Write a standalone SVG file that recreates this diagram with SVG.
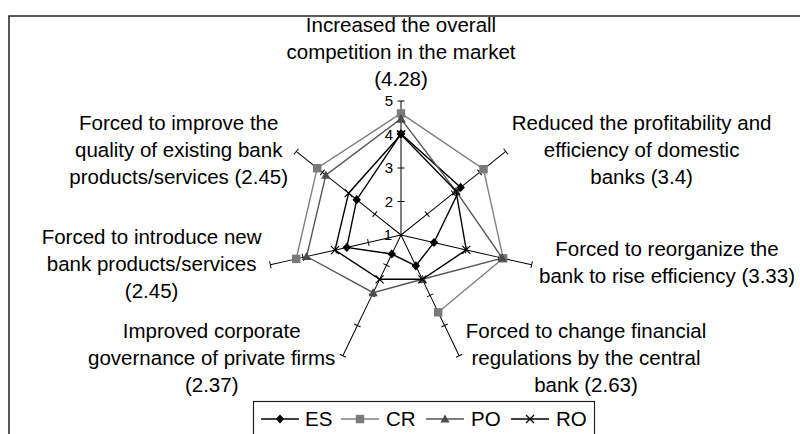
<svg xmlns="http://www.w3.org/2000/svg" xmlns:xlink="http://www.w3.org/1999/xlink" width="800" height="434" viewBox="0 0 800 434">
<defs>
<style>
text{font-family:"Liberation Sans",Arial,sans-serif;fill:#000}
.lbl{font-size:20.5px;text-anchor:middle}
.leg{font-size:20.5px}
.ax{font-size:15px;text-anchor:end}
.axis{fill:none;stroke:#000;stroke-width:1;marker-mid:url(#tk);marker-end:url(#tk)}
.es{fill:none;stroke:#000;stroke-width:1.4;marker-start:url(#mES);marker-mid:url(#mES);marker-end:url(#mES)}
.cr{fill:none;stroke:#808080;stroke-width:1.4;marker-start:url(#mCR);marker-mid:url(#mCR);marker-end:url(#mCR)}
.po{fill:none;stroke:#555;stroke-width:1.4;marker-start:url(#mPO);marker-mid:url(#mPO);marker-end:url(#mPO)}
.ro{fill:none;stroke:#000;stroke-width:1.4;marker-start:url(#mRO);marker-mid:url(#mRO);marker-end:url(#mRO)}
.legl{marker-start:none;marker-end:none}
</style>
<marker id="tk" markerUnits="userSpaceOnUse" viewBox="-5 -5 10 10" markerWidth="10" markerHeight="10" refX="0" refY="0" orient="auto" overflow="visible"><line x1="0" y1="-3.5" x2="0" y2="3.5" stroke="#000" stroke-width="1"/></marker>
<marker id="mES" markerUnits="userSpaceOnUse" viewBox="-5 -5 10 10" markerWidth="10" markerHeight="10" refX="0" refY="0" overflow="visible"><path d="M0,-4.6 L4.2,0 L0,4.6 L-4.2,0Z" fill="#000"/></marker>
<marker id="mCR" markerUnits="userSpaceOnUse" viewBox="-5 -5 10 10" markerWidth="10" markerHeight="10" refX="0" refY="0" overflow="visible"><rect x="-4.2" y="-4.2" width="8.4" height="8.4" fill="#7a7a7a"/></marker>
<marker id="mPO" markerUnits="userSpaceOnUse" viewBox="-5 -5 10 10" markerWidth="10" markerHeight="10" refX="0" refY="0" overflow="visible"><path d="M0,-4.6 L4.6,3.6 L-4.6,3.6Z" fill="#4d4d4d"/></marker>
<marker id="mRO" markerUnits="userSpaceOnUse" viewBox="-5 -5 10 10" markerWidth="10" markerHeight="10" refX="0" refY="0" overflow="visible"><path d="M-4,-4 L4,4 M-4,4 L4,-4" stroke="#000" stroke-width="1.2" fill="none"/></marker>
<polyline id="axis" class="axis" points="401,235 401,201.5 401,168 401,134.5 401,101"/>
</defs>

<path d="M9,434 V16 H800" fill="none" stroke="#222" stroke-width="1.5"/>

<g id="axes">
<use xlink:href="#axis" href="#axis"/>
<use xlink:href="#axis" href="#axis" transform="rotate(51.4286 401 235)"/>
<use xlink:href="#axis" href="#axis" transform="rotate(102.8571 401 235)"/>
<use xlink:href="#axis" href="#axis" transform="rotate(154.2857 401 235)"/>
<use xlink:href="#axis" href="#axis" transform="rotate(205.7143 401 235)"/>
<use xlink:href="#axis" href="#axis" transform="rotate(257.1429 401 235)"/>
<use xlink:href="#axis" href="#axis" transform="rotate(308.5714 401 235)"/>
<text class="ax" x="393" y="106">5</text>
<text class="ax" x="393" y="139.5">4</text>
<text class="ax" x="393" y="173">3</text>
<text class="ax" x="393" y="206.5">2</text>
<text class="ax" x="392" y="240">1</text>
</g>

<g id="connectors">
<polygon id="series-ES" class="es" points="401,133.8 460.7,187.4 434,242.5 415.8,265.8 391.8,254 346.8,247.4 356.7,199.7"/>
<polyline id="series-CR" class="cr" points="296.2,258.9 317.2,168.2 401,113.4 483.5,169.2 503.2,258.3 438.2,312.3"/>
<polygon id="series-PO" class="po" points="401,118.8 456,191.1 502.3,258.1 422.4,279.3 373.2,292.7 306.6,256.5 325.8,175.1"/>
<polygon id="series-RO" class="ro" points="401,134.5 456,191.1 466.3,249.9 422.4,279.3 379.6,279.3 335,250.1 348.6,193.2"/>
</g>

<g id="label-competition">
<text class="lbl" x="401" y="32">Increased the overall</text>
<text class="lbl" x="401" y="59">competition in the market</text>
<text class="lbl" x="401" y="86">(4.28)</text>
</g>
<g id="label-profitability">
<text class="lbl" x="641.6" y="130">Reduced the profitability and</text>
<text class="lbl" x="641.6" y="157">efficiency of domestic</text>
<text class="lbl" x="641.6" y="184">banks (3.4)</text>
</g>
<g id="label-reorganize">
<text class="lbl" x="667" y="256">Forced to reorganize the</text>
<text class="lbl" x="667" y="283">bank to rise efficiency (3.33)</text>
</g>
<g id="label-regulations">
<text class="lbl" x="586" y="338">Forced to change financial</text>
<text class="lbl" x="586" y="365">regulations by the central</text>
<text class="lbl" x="586" y="392">bank (2.63)</text>
</g>
<g id="label-governance">
<text class="lbl" x="211.7" y="338">Improved corporate</text>
<text class="lbl" x="211.7" y="365">governance of private firms</text>
<text class="lbl" x="211.7" y="392">(2.37)</text>
</g>
<g id="label-new-products">
<text class="lbl" x="151.6" y="244">Forced to introduce new</text>
<text class="lbl" x="151.6" y="271">bank products/services</text>
<text class="lbl" x="151.6" y="298">(2.45)</text>
</g>
<g id="label-quality">
<text class="lbl" x="178.7" y="130">Forced to improve the</text>
<text class="lbl" x="178.7" y="157">quality of existing bank</text>
<text class="lbl" x="178.7" y="184">products/services (2.45)</text>
</g>

<g id="legend">
<rect x="253.5" y="401.5" width="341" height="40" fill="#fff" stroke="#222" stroke-width="1.2"/>
<polyline class="es legl" points="261,419 280,419 299,419"/>
<text class="leg" x="305" y="426">ES</text>
<polyline class="cr legl" points="341,419 360,419 379,419"/>
<text class="leg" x="386" y="426">CR</text>
<polyline class="po legl" points="426,419 445,419 464,419"/>
<text class="leg" x="471" y="426">PO</text>
<polyline class="ro legl" points="511,419 530,419 549,419"/>
<text class="leg" x="556" y="426">RO</text>
</g>
</svg>
